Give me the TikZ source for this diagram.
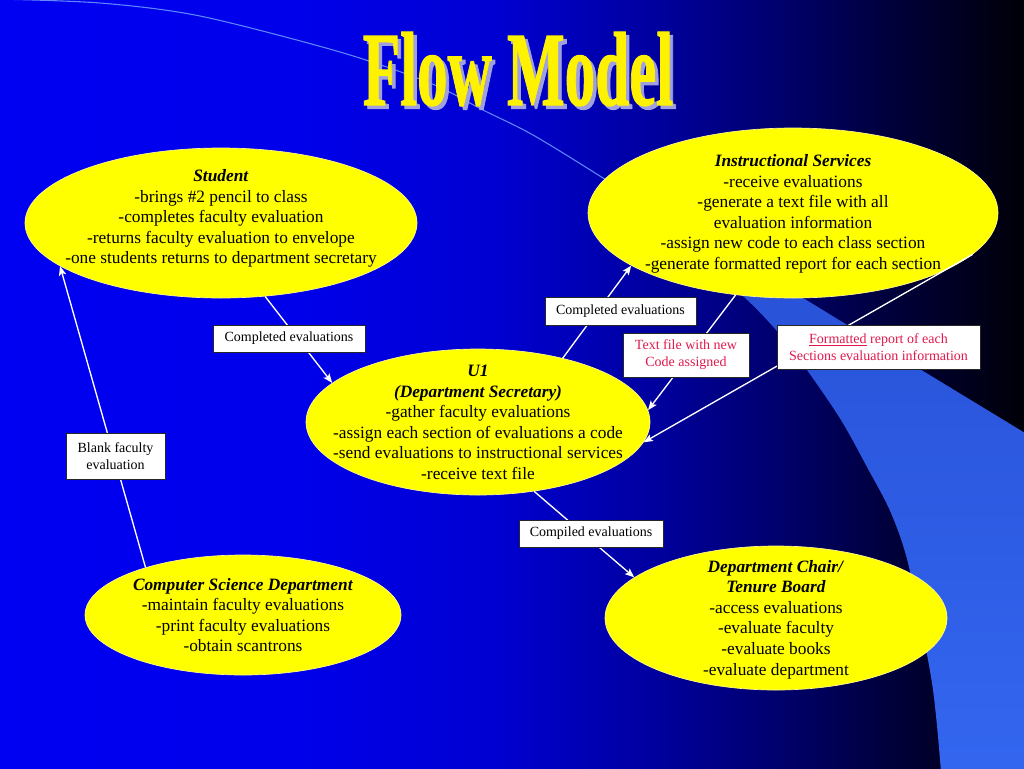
\documentclass[tikz,border=0pt]{standalone}
\usepackage{fontspec}
\setmainfont{Liberation Serif}
\newfontfamily\ttlfont{Liberation Serif}[BoldFeatures={FakeBold=1.2}]
\usetikzlibrary{shapes.geometric,arrows.meta}
\definecolor{bgA}{RGB}{0,0,242}
\definecolor{bgB}{RGB}{0,0,234}
\definecolor{bgC}{RGB}{0,0,208}
\definecolor{bgD}{RGB}{0,0,160}
\definecolor{bgE}{RGB}{0,0,108}
\definecolor{bgF}{RGB}{0,0,55}
\definecolor{bgG}{RGB}{0,0,8}
\definecolor{band}{RGB}{51,102,240}
\definecolor{bandtop}{RGB}{40,82,215}
\definecolor{arcline}{RGB}{95,135,255}
\definecolor{ttlshadow}{RGB}{160,160,225}
\definecolor{boxred}{RGB}{225,25,75}
\definecolor{ellyellow}{RGB}{255,255,0}
\pgfdeclarehorizontalshading{bgshade}{100bp}{color(0bp)=(bgA); color(25bp)=(bgA); color(39.65bp)=(bgB); color(49.41bp)=(bgC); color(56.74bp)=(bgD); color(63.09bp)=(bgE); color(68.95bp)=(bgF); color(75bp)=(bgG); color(100bp)=(bgG)}
\tikzset{
  ell/.style={ellipse, fill=ellyellow, draw=white!55!yellow, line width=0.5pt, inner sep=0pt},
  etext/.style={align=center, font=\fontsize{13}{15.4}\selectfont, text=black, inner sep=0pt},
  lbox/.style={rectangle, fill=white, draw=black!85, line width=0.6pt, inner sep=0pt, align=center, font=\fontsize{10.5}{12.7}\selectfont},
  conn/.style={draw=white, line width=1pt, -{Stealth[length=7pt,width=5.5pt,inset=1.5pt]}},
  ttlstyle/.style={anchor=base, font=\fontsize{79}{80}\selectfont\ttlfont\bfseries, inner sep=0pt},
}
\begin{document}
\begin{tikzpicture}[x=0.75pt,y=-0.75pt]
\useasboundingbox (0,0) rectangle (1024,768);
% background
\shade[shading=bgshade] (0,0) rectangle (1024,768);
% band
\shade[top color=bandtop, bottom color=band] plot[smooth] coordinates {(700,262) (744,297) (776,330) (807,370) (841,420) (867,467) (891,513) (909,567) (932,683) (941,772)} -- (1030,772) -- (1030,436) -- (844,323) -- (790,290) -- cycle;
% thin arc
\draw[arcline, line width=0.8pt] plot[smooth] coordinates {(-5,-1) (100,3) (200,16) (340,52) (430,83) (483,110) (533,135) (603,178) (680,228)};
% title
\node (ttlsh) [ttlstyle, text=ttlshadow] at (521.5,108.5) {\scalebox{0.58}[1]{Flow Model}};
\node (ttl) [ttlstyle, text=yellow] at (518,105) {\scalebox{0.58}[1]{Flow Model}};
% ellipses
\node (stu) [ell, minimum width=294pt, minimum height=112.5pt] at (221,223) {};
\node (is) [ell, minimum width=307.5pt, minimum height=127.5pt] at (793,213) {};
\node (u1) [ell, minimum width=258pt, minimum height=109.5pt] at (478,422) {};
\node (cs) [ell, minimum width=237pt, minimum height=90pt] at (243,615) {};
\node (dc) [ell, minimum width=256.5pt, minimum height=108pt] at (776,618) {};
% ellipse texts
\node (stuT) [etext] at (221,218.5) {\textbf{\textit{Student}}\\-brings \#2 pencil to class\\-completes faculty evaluation\\-returns faculty evaluation to envelope\\-one students returns to department secretary};
\node (isT) [etext] at (793,214) {\textbf{\textit{Instructional Services}}\\-receive evaluations\\-generate a text file with all\\evaluation information\\-assign new code to each class section\\-generate formatted report for each section};
\node (u1T) [etext] at (478,422.5) {\textbf{\textit{U1}}\\\textbf{\textit{(Department Secretary)}}\\-gather faculty evaluations\\-assign each section of evaluations a code\\-send evaluations to instructional services\\-receive text file};
\node (csT) [etext] at (243,615) {\textbf{\textit{Computer Science Department}}\\-maintain faculty evaluations\\-print faculty evaluations\\-obtain scantrons};
\node (dcT) [etext] at (776,619.5) {\textbf{\textit{Department Chair/}}\\\textbf{\textit{Tenure Board}}\\-access evaluations\\-evaluate faculty\\-evaluate books\\-evaluate department};
% connectors
\draw[conn] (stu.-59.6) -- (u1.165);
\draw[conn] (cs.154.1) -- (stu.-165.4);
\draw[conn] (u1.37.4) -- (is.-162.1);
\draw[conn] (is.-125.2) -- (u1.4);
\draw[conn] (is.-13.8) -- (u1.-7);
\draw[conn] (u1.-51) -- (dc.164.7);
% label boxes
\node (ce1) [lbox, minimum width=114pt, minimum height=20.25pt] at (289,338.5) {Completed evaluations};
\node (ce2) [lbox, minimum width=113.25pt, minimum height=21pt] at (620.5,311) {Completed evaluations};
\node (tf) [lbox, text=boxred, minimum width=94.5pt, minimum height=33pt] at (686,355) {Text file with new\\Code assigned};
\node (fr) [lbox, text=boxred, minimum width=152.25pt, minimum height=33pt] at (878.5,347) {\underline{Formatted} report of each\\Sections evaluation information};
\node (bf) [lbox, minimum width=74.25pt, minimum height=34.5pt] at (115.5,456) {Blank faculty\\evaluation};
\node (cmp) [lbox, minimum width=108pt, minimum height=20.25pt] at (591,533.5) {Compiled evaluations};
\end{tikzpicture}
\end{document}
